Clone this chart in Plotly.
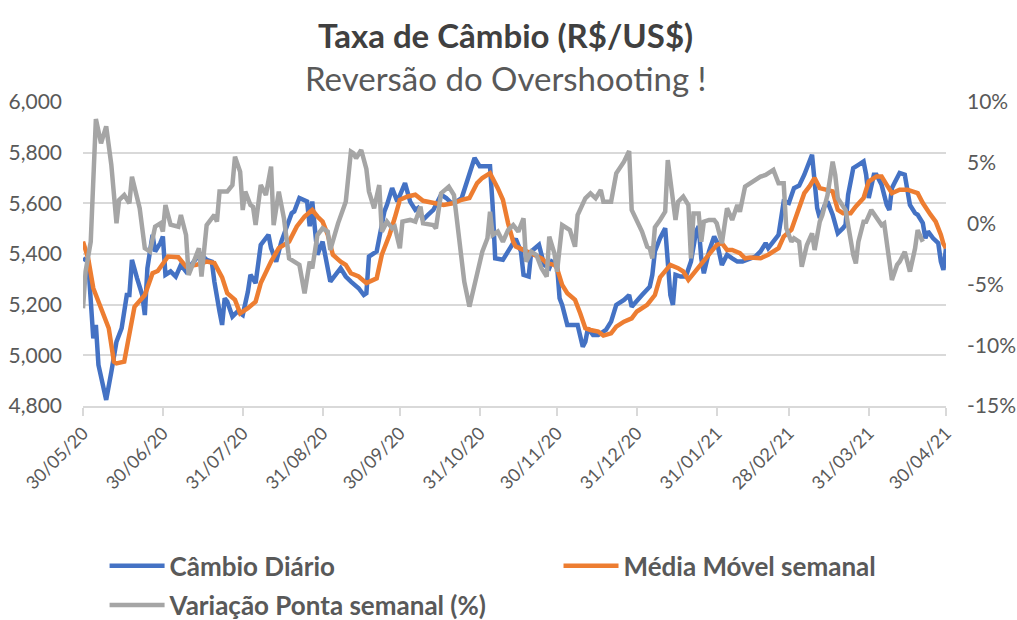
import plotly.graph_objects as go

# ---------------- data ----------------
blue_dates = ["2020-05-30","2020-06-01","2020-06-03","2020-06-04","2020-06-05","2020-06-08","2020-06-10","2020-06-12","2020-06-14","2020-06-16",
"2020-06-17","2020-06-18","2020-06-20","2020-06-22","2020-06-23","2020-06-24","2020-06-26","2020-06-27","2020-06-29","2020-06-30",
"2020-07-01","2020-07-03","2020-07-05","2020-07-07","2020-07-09","2020-07-11","2020-07-13","2020-07-15","2020-07-17","2020-07-19",
"2020-07-20","2020-07-22","2020-07-23","2020-07-24","2020-07-25","2020-07-27","2020-07-29","2020-07-31","2020-08-02","2020-08-03",
"2020-08-05","2020-08-07","2020-08-10","2020-08-11","2020-08-13","2020-08-15","2020-08-17","2020-08-19","2020-08-20","2020-08-22",
"2020-08-25","2020-08-26","2020-08-27","2020-08-28","2020-08-29","2020-08-31","2020-09-01","2020-09-03","2020-09-07","2020-09-09",
"2020-09-11","2020-09-14","2020-09-16","2020-09-17","2020-09-18","2020-09-21","2020-09-23","2020-09-24","2020-09-25","2020-09-27",
"2020-09-29","2020-09-30","2020-10-02","2020-10-04","2020-10-06","2020-10-07","2020-10-09","2020-10-11","2020-10-13","2020-10-16",
"2020-10-18","2020-10-20","2020-10-22","2020-10-24","2020-10-26","2020-10-29","2020-10-31","2020-11-02","2020-11-04","2020-11-05",
"2020-11-06","2020-11-09","2020-11-11","2020-11-13","2020-11-14","2020-11-16","2020-11-17","2020-11-19","2020-11-20","2020-11-23",
"2020-11-25","2020-11-27","2020-11-28","2020-11-30","2020-12-01","2020-12-02","2020-12-04","2020-12-06","2020-12-08","2020-12-10",
"2020-12-11","2020-12-12","2020-12-14","2020-12-16","2020-12-19","2020-12-21","2020-12-23","2020-12-26","2020-12-28","2020-12-29",
"2020-12-31","2021-01-02","2021-01-05","2021-01-06","2021-01-07","2021-01-08","2021-01-09","2021-01-11","2021-01-12","2021-01-13",
"2021-01-14","2021-01-15","2021-01-17","2021-01-19","2021-01-21","2021-01-23","2021-01-24","2021-01-25","2021-01-26","2021-01-28",
"2021-01-30","2021-01-31","2021-02-02","2021-02-04","2021-02-06","2021-02-08","2021-02-10","2021-02-12","2021-02-15","2021-02-17",
"2021-02-19","2021-02-20","2021-02-22","2021-02-23","2021-02-24","2021-02-26","2021-02-28","2021-03-02","2021-03-04","2021-03-06",
"2021-03-08","2021-03-09","2021-03-11","2021-03-12","2021-03-14","2021-03-15","2021-03-17","2021-03-19","2021-03-21","2021-03-22",
"2021-03-23","2021-03-25","2021-03-27","2021-03-29","2021-03-30","2021-03-31","2021-04-02","2021-04-03","2021-04-05","2021-04-07",
"2021-04-08","2021-04-09","2021-04-10","2021-04-12","2021-04-14","2021-04-16","2021-04-18","2021-04-19","2021-04-21","2021-04-22",
"2021-04-23","2021-04-25","2021-04-27","2021-04-28","2021-04-29","2021-04-30"]
blue_values = [5383,5370,5067,5120,4962,4824,4935,5054,5107,5238,
5238,5377,5304,5238,5159,5344,5476,5410,5443,5469,
5318,5331,5311,5357,5331,5357,5383,5397,5377,5370,
5291,5173,5120,5225,5212,5153,5173,5159,5251,5318,
5285,5436,5476,5423,5370,5449,5502,5561,5568,5621,
5607,5509,5607,5476,5397,5449,5397,5291,5344,5311,
5291,5265,5238,5245,5390,5410,5515,5568,5594,5660,
5607,5634,5680,5607,5574,5581,5535,5555,5574,5634,
5621,5601,5607,5621,5686,5779,5746,5746,5746,5594,
5383,5377,5410,5449,5460,5410,5318,5311,5410,5436,
5357,5344,5370,5357,5225,5199,5120,5120,5120,5034,
5054,5107,5080,5080,5100,5133,5199,5219,5238,5192,
5212,5238,5271,5318,5410,5436,5462,5502,5370,5238,
5199,5318,5311,5311,5370,5489,5509,5383,5324,5410,
5469,5449,5357,5397,5383,5370,5370,5377,5390,5410,
5443,5423,5449,5469,5476,5607,5601,5660,5670,5713,
5765,5792,5581,5542,5594,5607,5555,5482,5502,5515,
5634,5739,5752,5765,5713,5621,5713,5713,5673,5594,
5574,5660,5680,5720,5713,5594,5561,5555,5522,5462,
5489,5462,5443,5370,5337,5423]

orange_dates = ["2020-05-30","2020-06-01","2020-06-03","2020-06-06","2020-06-09","2020-06-11","2020-06-12","2020-06-15","2020-06-17","2020-06-19",
"2020-06-23","2020-06-26","2020-06-28","2020-07-02","2020-07-06","2020-07-09","2020-07-13","2020-07-17","2020-07-20","2020-07-23",
"2020-07-25","2020-07-28","2020-07-30","2020-08-02","2020-08-05","2020-08-07","2020-08-11","2020-08-14","2020-08-18","2020-08-21",
"2020-08-24","2020-08-27","2020-08-29","2020-08-31","2020-09-02","2020-09-04","2020-09-07","2020-09-09","2020-09-11","2020-09-14",
"2020-09-17","2020-09-21","2020-09-23","2020-09-26","2020-09-28","2020-09-30","2020-10-03","2020-10-06","2020-10-09","2020-10-13",
"2020-10-17","2020-10-21","2020-10-24","2020-10-27","2020-10-30","2020-11-01","2020-11-04","2020-11-07","2020-11-09","2020-11-11",
"2020-11-13","2020-11-14","2020-11-17","2020-11-20","2020-11-22","2020-11-24","2020-11-26","2020-11-29","2020-11-30","2020-12-02",
"2020-12-04","2020-12-07","2020-12-09","2020-12-11","2020-12-13","2020-12-16","2020-12-18","2020-12-21","2020-12-23","2020-12-26",
"2020-12-29","2020-12-31","2021-01-04","2021-01-07","2021-01-09","2021-01-13","2021-01-16","2021-01-18","2021-01-20","2021-01-23",
"2021-01-26","2021-01-28","2021-01-31","2021-02-02","2021-02-04","2021-02-06","2021-02-09","2021-02-11","2021-02-13","2021-02-17",
"2021-02-20","2021-02-24","2021-02-26","2021-03-01","2021-03-04","2021-03-06","2021-03-08","2021-03-10","2021-03-12","2021-03-15",
"2021-03-17","2021-03-19","2021-03-21","2021-03-24","2021-03-26","2021-03-29","2021-03-31","2021-04-03","2021-04-05","2021-04-07",
"2021-04-09","2021-04-12","2021-04-15","2021-04-19","2021-04-21","2021-04-24","2021-04-26","2021-04-28","2021-04-29","2021-04-30"]
orange_values = [5449,5383,5265,5186,5107,4975,4968,4975,5080,5192,
5238,5324,5333,5390,5387,5350,5357,5370,5364,5308,
5245,5219,5166,5186,5212,5285,5370,5423,5449,5509,
5548,5574,5548,5528,5476,5397,5370,5357,5324,5311,
5285,5304,5397,5476,5542,5614,5627,5634,5610,5601,
5594,5601,5614,5621,5680,5700,5719,5660,5614,5522,
5449,5430,5416,5403,5397,5383,5364,5357,5344,5278,
5245,5219,5166,5107,5100,5094,5078,5087,5113,5133,
5146,5173,5199,5238,5308,5357,5344,5331,5298,5337,
5370,5397,5436,5443,5416,5416,5403,5383,5386,5383,
5397,5423,5469,5496,5588,5640,5667,5700,5660,5654,
5647,5574,5561,5561,5588,5621,5686,5706,5706,5673,
5640,5654,5654,5640,5601,5555,5528,5476,5440,5423]

gray_dates = ["2020-05-30","2020-05-31","2020-06-02","2020-06-04","2020-06-06","2020-06-08","2020-06-10","2020-06-12","2020-06-13","2020-06-15",
"2020-06-17","2020-06-18","2020-06-21","2020-06-23","2020-06-25","2020-06-27","2020-06-29","2020-06-30","2020-07-01","2020-07-03",
"2020-07-06","2020-07-07","2020-07-09","2020-07-10","2020-07-11","2020-07-14","2020-07-15","2020-07-17","2020-07-20","2020-07-21",
"2020-07-22","2020-07-25","2020-07-27","2020-07-28","2020-07-30","2020-07-31","2020-08-01","2020-08-03","2020-08-04","2020-08-05",
"2020-08-07","2020-08-09","2020-08-11","2020-08-12","2020-08-14","2020-08-16","2020-08-18","2020-08-20","2020-08-22","2020-08-24",
"2020-08-26","2020-08-27","2020-08-29","2020-08-31","2020-09-02","2020-09-03","2020-09-06","2020-09-09","2020-09-11","2020-09-12",
"2020-09-13","2020-09-15","2020-09-17","2020-09-18","2020-09-20","2020-09-22","2020-09-23","2020-09-25","2020-09-27","2020-09-28",
"2020-09-30","2020-10-01","2020-10-04","2020-10-06","2020-10-08","2020-10-09","2020-10-13","2020-10-14","2020-10-16","2020-10-19",
"2020-10-21","2020-10-23","2020-10-25","2020-10-27","2020-10-28","2020-10-30","2020-11-01","2020-11-03","2020-11-04","2020-11-05",
"2020-11-07","2020-11-09","2020-11-11","2020-11-13","2020-11-15","2020-11-17","2020-11-18","2020-11-20","2020-11-22","2020-11-24",
"2020-11-26","2020-11-27","2020-11-29","2020-11-30","2020-12-02","2020-12-05","2020-12-07","2020-12-08","2020-12-10","2020-12-11",
"2020-12-13","2020-12-15","2020-12-17","2020-12-18","2020-12-21","2020-12-23","2020-12-26","2020-12-28","2020-12-29","2020-12-30",
"2021-01-02","2021-01-04","2021-01-05","2021-01-06","2021-01-07","2021-01-09","2021-01-11","2021-01-12","2021-01-13","2021-01-15",
"2021-01-16","2021-01-18","2021-01-20","2021-01-21","2021-01-22","2021-01-24","2021-01-25","2021-01-26","2021-01-28","2021-01-30",
"2021-01-31","2021-02-02","2021-02-04","2021-02-06","2021-02-08","2021-02-09","2021-02-11","2021-02-14","2021-02-17","2021-02-19",
"2021-02-20","2021-02-22","2021-02-24","2021-02-26","2021-02-27","2021-03-01","2021-03-02","2021-03-04","2021-03-05","2021-03-07",
"2021-03-09","2021-03-10","2021-03-12","2021-03-13","2021-03-15","2021-03-17","2021-03-18","2021-03-19","2021-03-22","2021-03-23",
"2021-03-25","2021-03-26","2021-03-27","2021-03-29","2021-03-30","2021-04-01","2021-04-03","2021-04-05","2021-04-06","2021-04-07",
"2021-04-09","2021-04-11","2021-04-12","2021-04-14","2021-04-16","2021-04-18","2021-04-19","2021-04-21"]
gray_values = [-6.97,-3.95,-1.49,8.6,6.6,8.0,4.82,0.02,1.94,2.35,
1.67,3.86,1.26,-2.03,-2.3,-0.25,0.02,-0.66,1.53,-0.08,
-0.25,0.71,-0.94,-4.23,-3.68,-2.03,-4.36,-0.12,0.71,0.16,
2.63,2.63,3.17,5.5,4.27,1.12,2.63,1.53,1.39,-0.12,
3.17,2.35,4.68,-0.12,2.63,0.43,-2.86,-3.13,-3.4,-5.73,
-3.13,-3.68,-0.94,-0.39,-0.66,-2.17,0.02,1.8,5.92,5.78,
5.37,6.05,4.5,2.63,1.26,3.17,-0.66,0.16,-0.39,-0.25,
-2.03,0.16,0.3,0.16,1.39,0.02,-0.12,-0.39,2.49,3.04,
2.35,-1.21,-4.78,-6.83,-5.87,-3.95,-2.31,-1.21,0.98,-0.94,
-0.66,-1.49,-0.53,-0.12,-0.66,0.43,-3.13,-2.31,-2.58,-3.68,
-4.36,-1.08,-2.45,-3.95,-0.12,-0.53,-1.9,0.71,1.53,2.08,
2.49,2.08,2.76,1.8,1.8,4.13,5.09,5.97,1.12,0.71,
-0.66,-1.9,-2.03,-2.86,-0.3,0.3,0.98,5.23,3.72,0.3,
1.8,2.22,1.53,-2.86,0.84,0.84,-1.49,0.16,0.3,0.3,
0.02,-1.62,1.26,0.3,1.53,0.98,3.04,3.45,3.86,4.0,
4.13,4.41,3.31,3.31,-0.39,-1.49,-1.21,-1.5,-3.54,-1.76,
-0.8,-2.17,0.16,0.71,2.35,5.09,4.0,2.08,1.12,-0.12,
-2.58,-3.27,-1.49,0.16,0.16,1.12,0.57,-0.12,0.02,-1.76,
-4.64,-3.4,-3.13,-2.31,-3.95,-2.03,-0.53,-1.49]

tick_dates = ["2020-05-30","2020-06-30","2020-07-31","2020-08-31","2020-09-30","2020-10-31",
              "2020-11-30","2020-12-31","2021-01-31","2021-02-28","2021-03-31","2021-04-30"]
tick_labels = ["30/05/20","30/06/20","31/07/20","31/08/20","30/09/20","31/10/20",
               "30/11/20","31/12/20","31/01/21","28/02/21","31/03/21","30/04/21"]
left_ticks = [4800, 5000, 5200, 5400, 5600, 5800, 6000]
right_ticks = [-15, -10, -5, 0, 5, 10]
right_labels = ["-15%", "-10%", "-5%", "0%", "5%", "10%"]

names = ["Câmbio Diário", "Média Móvel semanal", "Variação Ponta semanal (%)"]

# ---------------- figure ----------------
FONT = "Lato"
TXT = "#595959"
BLUE, ORANGE, GRAY = "#4472C4", "#ED7D31", "#A5A5A5"

fig = go.Figure()
fig.add_trace(go.Scatter(x=blue_dates, y=blue_values, mode="lines", name=names[0],
                         line=dict(color=BLUE, width=4.5), legend="legend"))
fig.add_trace(go.Scatter(x=orange_dates, y=orange_values, mode="lines", name=names[1],
                         line=dict(color=ORANGE, width=4.5), legend="legend2"))
fig.add_trace(go.Scatter(x=gray_dates, y=gray_values, mode="lines", name=names[2],
                         line=dict(color=GRAY, width=4.5), yaxis="y2", legend="legend3"))

leg_common = dict(orientation="h", font=dict(family=FONT, size=26, color=TXT, weight="bold"),
                  bgcolor="rgba(0,0,0,0)", xanchor="left", yanchor="middle", itemwidth=55)

fig.update_layout(
    width=1017, height=620,
    margin=dict(l=83, r=71, t=102, b=214, autoexpand=False),
    paper_bgcolor="white", plot_bgcolor="white",
    font=dict(family=FONT, color=TXT),
    showlegend=True,
    legend=dict(x=0.025, y=-0.526, **leg_common),
    legend2=dict(x=0.551, y=-0.526, **leg_common),
    legend3=dict(x=0.025, y=-0.655, **leg_common),
    xaxis=dict(type="date", range=["2020-05-30", "2021-04-30"],
               tickvals=tick_dates, ticktext=tick_labels, tickangle=-45,
               tickfont=dict(family=FONT, size=18, color=TXT),
               showgrid=False, showline=True, linecolor="#D9D9D9", linewidth=1.5,
               ticks="outside", ticklen=8, tickcolor="#D9D9D9", tickwidth=1.5,
               zeroline=False),
    yaxis=dict(range=[4800, 6000], tickvals=left_ticks, tickformat=",d",
               tickfont=dict(family=FONT, size=21, color=TXT), ticklabelstandoff=20,
               showgrid=True, gridcolor="#D9D9D9", gridwidth=1.5,
               zeroline=False, showline=False, ticks=""),
    yaxis2=dict(range=[-15, 10], tickvals=right_ticks, ticktext=right_labels,
                overlaying="y", side="right", showgrid=False, zeroline=False,
                tickfont=dict(family=FONT, size=21, color=TXT), ticklabelstandoff=20,
                showline=False, ticks=""),
    annotations=[
        dict(text="<b>Taxa de Câmbio (R$/US$)</b>", x=0.49, y=1.2204, xref="paper", yref="paper",
             xanchor="center", yanchor="middle", showarrow=False,
             font=dict(family=FONT, size=33, color="#404040")),
        dict(text="Reversão do Overshooting !", x=0.49, y=1.0789, xref="paper", yref="paper",
             xanchor="center", yanchor="middle", showarrow=False,
             font=dict(family=FONT, size=33, color=TXT)),
    ],
)

fig.write_html("out.html", config={"displayModeBar": False},
               post_script="document.body.style.margin='0';")
